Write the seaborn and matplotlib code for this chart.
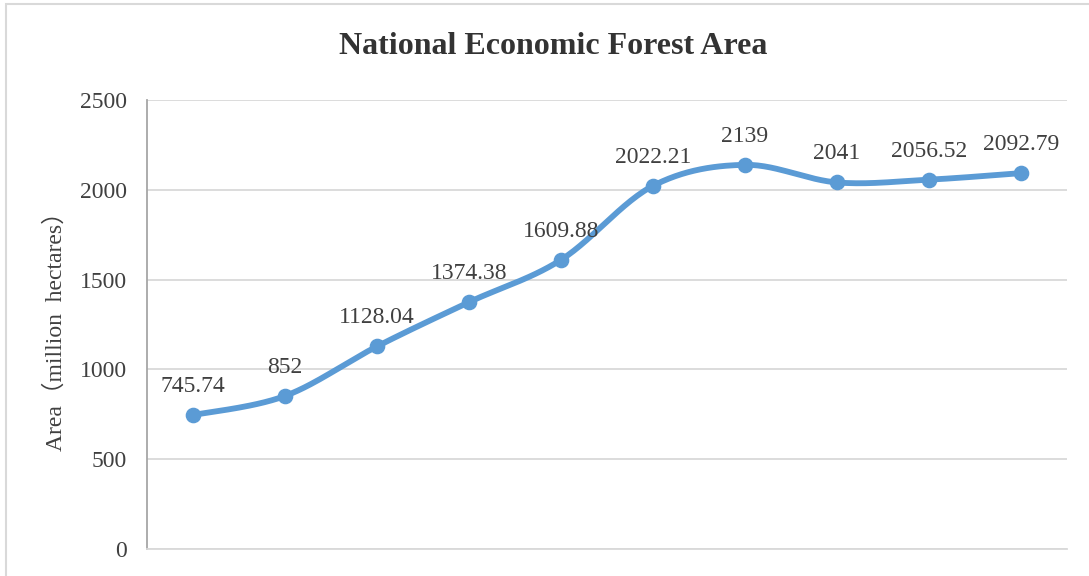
import numpy as np
import pandas as pd
import matplotlib
matplotlib.use("Agg")
import matplotlib.pyplot as plt
import seaborn as sns
from matplotlib.patches import Rectangle

categories = ["1", "2", "3", "4", "5", "6", "7", "8", "9", "10"]
values = [745.74, 852, 1128.04, 1374.38, 1609.88, 2022.21, 2139, 2041, 2056.52, 2092.79]
labels = ["745.74", "852", "1128.04", "1374.38", "1609.88", "2022.21", "2139", "2041", "2056.52", "2092.79"]
yticks = [0, 500, 1000, 1500, 2000, 2500]

sns.set_theme(style="white")
plt.rcParams['font.family'] = ['Liberation Serif', 'Noto Sans CJK SC', 'DejaVu Sans']

color = "#5B9BD5"
textcol = "#404040"
x = np.arange(len(values), dtype=float)
y = np.array(values, dtype=float)

# Smooth curve (Excel-like bezier smoothing) through the data points
def smooth(xp, yp, n=30):
    px = np.concatenate([[xp[0]], xp, [xp[-1]]])
    py = np.concatenate([[yp[0]], yp, [yp[-1]]])
    xs, ys = [], []
    for i in range(1, len(px) - 2):
        p0 = np.array([px[i], py[i]])
        p3 = np.array([px[i + 1], py[i + 1]])
        c1 = p0 + (np.array([px[i + 1], py[i + 1]]) - np.array([px[i - 1], py[i - 1]])) / 6
        c2 = p3 - (np.array([px[i + 2], py[i + 2]]) - np.array([px[i], py[i]])) / 6
        t = np.linspace(0, 1, n)[:, None]
        b = (1 - t) ** 3 * p0 + 3 * (1 - t) ** 2 * t * c1 + 3 * (1 - t) * t ** 2 * c2 + t ** 3 * p3
        xs.append(b[:, 0]); ys.append(b[:, 1])
    return np.concatenate(xs), np.concatenate(ys)

sx, sy = smooth(x, y)
curve = pd.DataFrame({"x": sx, "y": sy})
pts = pd.DataFrame({"x": x, "y": y})

fig = plt.figure(figsize=(10.89, 5.76), dpi=100)
ax = fig.add_axes([147 / 1089, 1 - 549 / 576, (1067 - 147) / 1089, (549 - 100) / 576])

sns.lineplot(data=curve, x="x", y="y", ax=ax, color=color, linewidth=4.2, sort=False, estimator=None)
sns.scatterplot(data=pts, x="x", y="y", ax=ax, color=color, s=105, edgecolor=color, linewidth=1, zorder=3)

for xi, yi, lab in zip(x, y, labels):
    ax.annotate(lab, (xi, yi), xytext=(0, 13), textcoords="offset points",
                ha="center", va="bottom", fontsize=17, color=textcol)

ax.set_xlim(-0.5, len(values) - 0.5)
ax.set_ylim(0, 2500)
ax.set_yticks(yticks)
ax.set_yticklabels([str(t) for t in yticks], fontsize=17, color=textcol)
ax.set_xticks([])
ax.tick_params(axis="y", length=0, pad=14.5)
ax.yaxis.grid(True, color="#D9D9D9", linewidth=1.3)
ax.set_axisbelow(True)
for s in ["top", "right"]:
    ax.spines[s].set_visible(False)
ax.spines["left"].set_color("#A6A6A6")
ax.spines["bottom"].set_color("#D9D9D9")
ax.spines["left"].set_linewidth(1.3)
ax.spines["bottom"].set_linewidth(1.3)
ax.set_xlabel("")
ax.set_ylabel("Area（million  hectares）", fontsize=17, color=textcol)
ax.yaxis.set_label_coords((67 - 147) / 920, (549 - 326) / 449)

fig.text(553 / 1089, 1 - 47 / 576, "National Economic Forest Area", ha="center", va="center",
         fontsize=23, fontweight="bold", color="#333333")

fig.patches.append(Rectangle((6 / 1089, -0.1), 1.2, 1 - 4 / 576 + 0.1, transform=fig.transFigure,
                             fill=False, edgecolor="#D9D9D9", linewidth=1.5))

fig.savefig("out.png", dpi=100)
